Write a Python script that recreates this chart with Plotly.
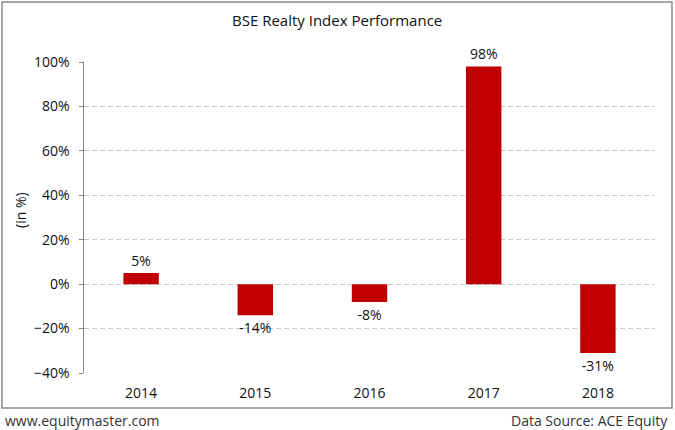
import plotly.graph_objects as go

years = ["2014", "2015", "2016", "2017", "2018"]
returns = [5, -14, -8, 98, -31]
labels = ["5%", "-14%", "-8%", "98%", "-31%"]

W, H = 675, 430
px_left, px_right = 84, 655
px_top, px_bottom = 62, 373
ymin, ymax = -40, 100

FONT = "Open Sans"
TXT = "#111111"

x_dom = [px_left / W, px_right / W]
y_dom = [1 - px_bottom / H, 1 - px_top / H]
zero_pos = y_dom[0] + (0 - ymin) / (ymax - ymin) * (y_dom[1] - y_dom[0])

fig = go.Figure()
fig.add_trace(go.Bar(
    x=years, y=returns, text=labels, textposition="outside",
    textfont=dict(family=FONT, size=14, color=TXT),
    marker=dict(color="#C00000", line=dict(width=0)),
    width=0.31, cliponaxis=False, hoverinfo="skip",
))

fig.update_layout(
    template="none",
    width=W, height=H, margin=dict(l=0, r=0, t=0, b=0, pad=0, autoexpand=False),
    paper_bgcolor="white", plot_bgcolor="white", showlegend=False, hovermode=False,
    font=dict(family=FONT, size=14, color=TXT),
    xaxis=dict(domain=x_dom, type="category", showline=False, ticks="",
               showgrid=False, zeroline=False, tickfont=dict(size=14, color=TXT),
               ticklabelstandoff=10, range=[-0.5, 4.5], automargin=False),
    xaxis2=dict(domain=x_dom, overlaying="x", anchor="free", position=zero_pos,
                range=[-0.5, 4.5], showline=True, linecolor="#858585", linewidth=1.5,
                ticks="outside", ticklen=4, tickcolor="#858585", tickwidth=1,
                tickvals=[0, 1, 2, 3, 4, 4.5], showticklabels=False,
                showgrid=False, zeroline=False, side="bottom", automargin=False),
    yaxis=dict(domain=y_dom, range=[ymin, ymax], dtick=20, ticksuffix="%",
               showline=True, linecolor="#858585", linewidth=1.5,
               ticks="outside", ticklen=4, tickcolor="#858585",
               showgrid=True, gridcolor="#c8c8c8", griddash="5px,3px", gridwidth=1,
               zeroline=False, tickfont=dict(size=14, color=TXT),
               ticklabelstandoff=6, automargin=False),
    shapes=[dict(type="rect", xref="paper", yref="paper",
                 x0=2 / W, x1=672 / W, y0=1 - 408 / H, y1=1 - 2 / H,
                 line=dict(color="#8a8a8a", width=1.5), layer="below")],
    annotations=[
        dict(text="BSE Realty Index Performance", xref="paper", yref="paper",
             x=337 / W, y=1 - 20 / H, showarrow=False, xanchor="center", yanchor="middle",
             font=dict(size=15, color=TXT)),
        dict(text="(in %)", xref="paper", yref="paper", x=20 / W, y=1 - 210 / H,
             showarrow=False, textangle=-90, xanchor="center", yanchor="middle",
             font=dict(size=14, color=TXT)),
        dict(text="www.equitymaster.com", xref="paper", yref="paper", x=3 / W, y=1 - 420 / H,
             showarrow=False, xanchor="left", yanchor="middle",
             font=dict(size=14, color="#333333")),
        dict(text="Data Source: ACE Equity", xref="paper", yref="paper", x=670 / W, y=1 - 420 / H,
             showarrow=False, xanchor="right", yanchor="middle",
             font=dict(size=14, color="#333333")),
    ],
)

fig.write_html("out.html", config={"displayModeBar": False, "staticPlot": True},
               post_script="document.body.style.margin='0';")
